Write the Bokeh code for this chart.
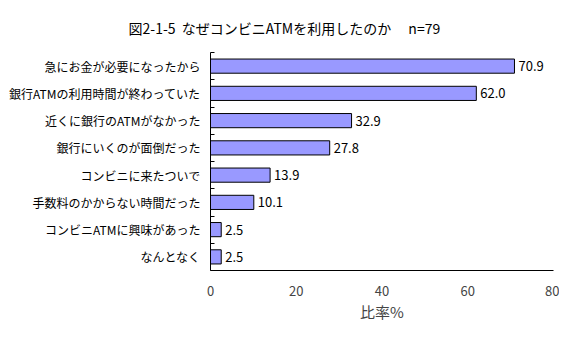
from bokeh.plotting import figure
from bokeh.models import (ColumnDataSource, Range1d, LinearAxis, FixedTicker, Title)
from bokeh.core.properties import value
from bokeh.embed import file_html
from bokeh.resources import INLINE

categories = ["急にお金が必要になったから", "銀行ATMの利用時間が終わっていた", "近くに銀行のATMがなかった",
              "銀行にいくのが面倒だった", "コンビニに来たついで", "手数料のかからない時間だった",
              "コンビニATMに興味があった", "なんとなく"]
values = [70.9, 62.0, 32.9, 27.8, 13.9, 10.1, 2.5, 2.5]
x_ticks = [0, 20, 40, 60, 80]
title_text = "図2-1-5\u00a0\u00a0なぜコンビニATMを利用したのか\u3000\u00a0n=79"

FONT = "Noto Sans CJK JP"
n = len(categories)
positions = list(range(1, n + 1))            # category slots, top to bottom
boundaries = [k + 0.5 for k in range(0, n + 1)]

src = ColumnDataSource(dict(pos=positions, val=values, lbl=[f"{v:.1f}" for v in values]))

p = figure(width=559, height=348, output_backend="svg", toolbar_location=None,
           y_range=Range1d(n + 0.5, 0.5), x_range=Range1d(0, 80),
           x_axis_location=None, y_axis_location=None,
           min_border_left=210, min_border_right=6, min_border_top=52, min_border_bottom=78)
p.outline_line_color = None
p.xgrid.visible = False
p.ygrid.visible = False
p.background_fill_color = "white"
p.border_fill_color = "white"

p.title = Title(text=title_text, align="left", offset=-82,
                text_font=FONT, text_font_size="14px", text_font_style="normal",
                text_color="black", standoff=29)

# tick-only axis at category boundaries (closest to frame)
tick_axis = LinearAxis(ticker=FixedTicker(ticks=boundaries),
                       major_label_overrides={b: "" for b in boundaries},
                       major_label_text_color=None, major_label_standoff=0,
                       major_tick_in=4, major_tick_out=0, minor_tick_line_color=None,
                       axis_line_color="black", major_tick_line_color="black")
p.add_layout(tick_axis, "left")

label_axis = LinearAxis(ticker=FixedTicker(ticks=positions),
                        major_label_overrides={pos: c for pos, c in zip(positions, categories)},
                        axis_line_color=None, major_tick_line_color=None, minor_tick_line_color=None,
                        major_label_text_font=FONT, major_label_text_font_size="12px",
                        major_label_text_color="black", major_label_standoff=4)
p.add_layout(label_axis, "left")

xaxis = LinearAxis(ticker=FixedTicker(ticks=x_ticks), axis_label="比率%",
                   axis_label_text_font=FONT, axis_label_text_font_size="15px",
                   axis_label_text_font_style="normal", axis_label_standoff=2,
                   major_label_text_font=FONT, major_label_text_font_size="13px",
                   major_label_standoff=9, major_tick_line_color=None,
                   minor_tick_line_color=None, axis_line_color="black")
p.add_layout(xaxis, "below")

p.hbar(y="pos", right="val", left=0, height=0.52, source=src,
       fill_color="#9999FF", line_color="black", line_width=1)

p.text(x="val", y="pos", text="lbl", source=src, x_offset=4,
       text_font=value(FONT), text_font_size="13px", text_baseline="middle",
       text_align="left", text_color="black")

open("out.html", "w").write(file_html(p, INLINE))
